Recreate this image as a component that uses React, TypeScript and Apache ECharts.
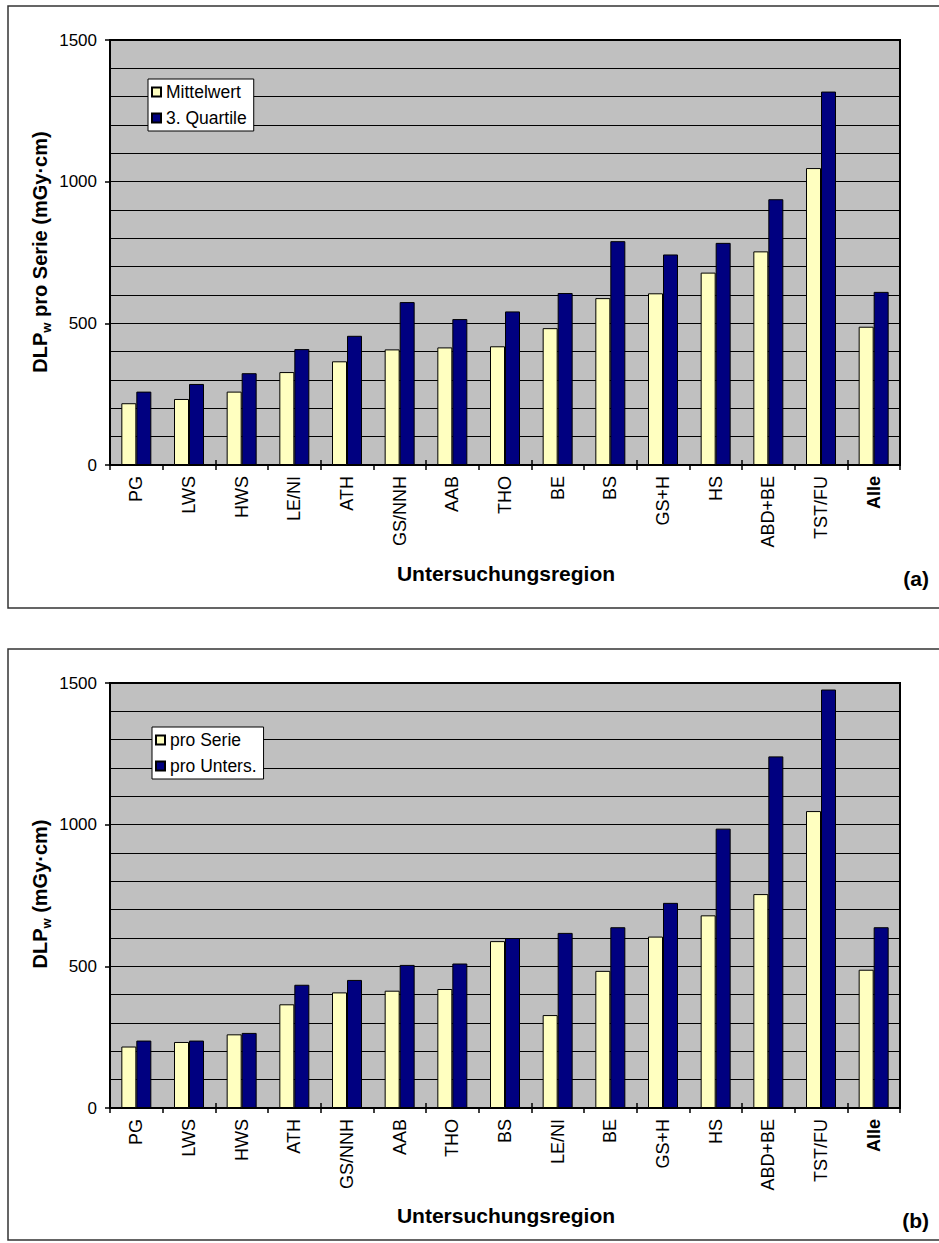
import { useEffect, useRef } from 'react';
import * as echarts from 'echarts';

// Panel (a): mean and 3rd quartile of DLPw per series
const regionsA = ['PG', 'LWS', 'HWS', 'LE/NI', 'ATH', 'GS/NNH', 'AAB', 'THO', 'BE', 'BS', 'GS+H', 'HS', 'ABD+BE', 'TST/FU', 'Alle'];
const mittelwert = [218, 233, 259, 328, 366, 408, 415, 419, 483, 589, 606, 679, 754, 1048, 488];
const quartile3 = [259, 286, 324, 409, 456, 575, 515, 542, 607, 790, 743, 784, 938, 1318, 611];

// Panel (b): DLPw per series vs. per examination
const regionsB = ['PG', 'LWS', 'HWS', 'ATH', 'GS/NNH', 'AAB', 'THO', 'BS', 'LE/NI', 'BE', 'GS+H', 'HS', 'ABD+BE', 'TST/FU', 'Alle'];
const proSerie = [217, 233, 260, 366, 408, 414, 420, 589, 328, 484, 605, 680, 755, 1048, 488];
const proUnters = [238, 238, 265, 435, 452, 505, 510, 600, 618, 638, 724, 986, 1241, 1477, 638];

const yMin = 0;
const yMax = 1500;
const yStep = 500;

const FONT = '"Liberation Sans", Arial, sans-serif';
const YELLOW = '#FFFFC0';
const NAVY = '#000080';

function xAxes(categories: string[], gridIndex: number) {
  return [
    {
      type: 'category',
      gridIndex,
      data: categories,
      position: 'bottom',
      axisLine: { lineStyle: { color: '#000', width: 2 } },
      axisTick: { show: true, length: 5, inside: false, lineStyle: { color: '#000', width: 1.5 } },
      axisLabel: {
        interval: 0,
        rotate: 90,
        margin: 11,
        color: '#000',
        fontSize: 18,
        fontFamily: FONT,
        formatter: (v: string) => (v === 'Alle' ? `{b|${v}}` : v),
        rich: { b: { fontWeight: 'bold', fontSize: 18, fontFamily: FONT, color: '#000' } },
      },
      splitLine: { show: false },
    },
    {
      type: 'category',
      gridIndex,
      data: categories,
      position: 'bottom',
      axisLine: { show: false },
      axisTick: { show: true, length: 5, inside: true, lineStyle: { color: '#000', width: 1.5 } },
      axisLabel: { show: false },
      splitLine: { show: false },
    },
  ];
}

function yAxis(gridIndex: number) {
  return {
    type: 'value',
    gridIndex,
    min: yMin,
    max: yMax,
    interval: yStep,
    axisLine: { show: true, lineStyle: { color: '#000', width: 2 } },
    axisTick: { show: true, length: 5, lineStyle: { color: '#000', width: 1.5 } },
    axisLabel: {
      color: '#000',
      fontSize: 17,
      fontFamily: FONT,
      margin: 13,
      formatter: (v: number) => String(v),
    },
    splitLine: { show: true, lineStyle: { color: '#000', width: 1 } },
    minorTick: { show: false, splitNumber: 5 },
    minorSplitLine: { show: true, lineStyle: { color: '#000', width: 1 } },
  };
}

function bar(name: string, data: number[], color: string, axisIndex: number, yIndex: number) {
  return {
    type: 'bar',
    name,
    data,
    xAxisIndex: axisIndex,
    yAxisIndex: yIndex,
    barWidth: 15,
    barGap: '0%',
    itemStyle: { color, borderColor: '#000', borderWidth: 1 },
  };
}

function legend(names: string[], left: number, top: number) {
  return {
    data: names,
    left,
    top,
    orient: 'vertical',
    icon: 'rect',
    itemWidth: 9,
    itemHeight: 9,
    itemGap: 6,
    padding: [3, 7, 3, 3],
    backgroundColor: '#fff',
    borderColor: '#000',
    borderWidth: 1,
    borderRadius: 0,
    selectedMode: false,
    textStyle: { color: '#000', fontSize: 17.5, fontFamily: FONT, lineHeight: 20 },
  };
}

function yTitle(x: number, y: number, rest: string) {
  return {
    type: 'text',
    x,
    y,
    rotation: Math.PI / 2,
    style: {
      text: `{m|DLP}{s|w}{m|${rest}}`,
      align: 'center',
      verticalAlign: 'middle',
      rich: {
        m: { fontSize: 20, fontWeight: 'bold', fontFamily: FONT, fill: '#000', lineHeight: 26, verticalAlign: 'middle' },
        s: { fontSize: 13, fontWeight: 'bold', fontFamily: FONT, fill: '#000', lineHeight: 14, verticalAlign: 'bottom' },
      },
    },
  };
}

function plainText(x: number, y: number, text: string, align = 'center') {
  return {
    type: 'text',
    x,
    y,
    style: {
      text,
      align,
      verticalAlign: 'middle',
      font: `bold 21px ${FONT}`,
      fill: '#000',
    },
  };
}

function frame(top: number, bottom: number) {
  return {
    type: 'polyline',
    shape: { points: [[945, top], [8, top], [8, bottom], [945, bottom]] },
    style: { stroke: '#333', lineWidth: 1.5, fill: null },
    silent: true,
  };
}

export default function App() {
  const ref = useRef<HTMLDivElement>(null);

  useEffect(() => {
    if (!ref.current) return;
    const chart = echarts.init(ref.current, undefined, { renderer: 'svg' });
    chart.setOption({
      animation: false,
      backgroundColor: '#fff',
      textStyle: { fontFamily: FONT },
      grid: [
        { left: 110, top: 40, width: 790, height: 425, show: true, backgroundColor: '#C0C0C0', borderColor: '#000', borderWidth: 2 },
        { left: 110, top: 683, width: 790, height: 425, show: true, backgroundColor: '#C0C0C0', borderColor: '#000', borderWidth: 2 },
      ],
      xAxis: [...xAxes(regionsA, 0), ...xAxes(regionsB, 1)],
      yAxis: [yAxis(0), yAxis(1)],
      legend: [
        legend(['Mittelwert', '3. Quartile'], 148, 79),
        legend(['pro Serie', 'pro Unters.'], 152, 727),
      ],
      series: [
        bar('Mittelwert', mittelwert, YELLOW, 0, 0),
        bar('3. Quartile', quartile3, NAVY, 0, 0),
        bar('pro Serie', proSerie, YELLOW, 2, 1),
        bar('pro Unters.', proUnters, NAVY, 2, 1),
      ],
      graphic: [
        frame(6, 608),
        frame(649, 1240),
        yTitle(40, 252, ' pro Serie (mGy·cm)'),
        yTitle(40, 894, ' (mGy·cm)'),
        plainText(506, 573, 'Untersuchungsregion'),
        plainText(506, 1215, 'Untersuchungsregion'),
        plainText(929, 578, '(a)', 'right'),
        plainText(929, 1220, '(b)', 'right'),
      ],
    });
    return () => chart.dispose();
  }, []);

  return (
    <div
      ref={ref}
      style={{ position: 'absolute', left: 0, top: 0, width: 939, height: 1243, overflow: 'hidden' }}
    />
  );
}
